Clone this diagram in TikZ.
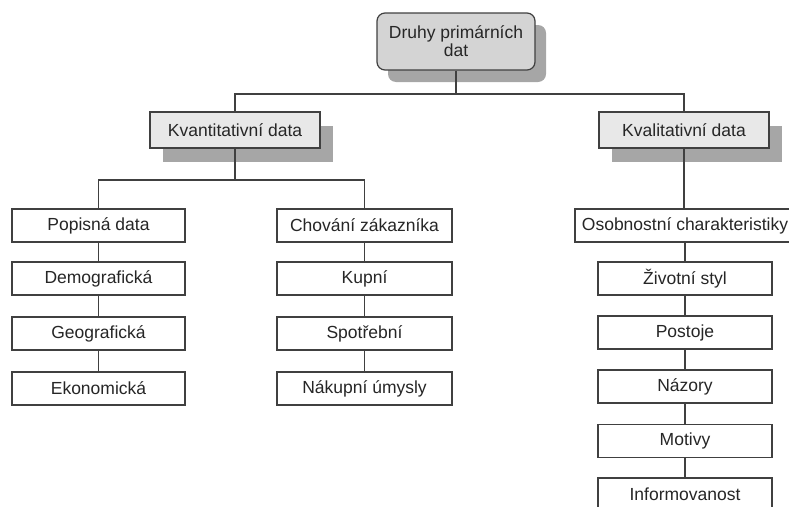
\documentclass[tikz,border=0pt]{standalone}
\usepackage{fontspec}
\setmainfont{Liberation Sans}
\usetikzlibrary{shadows}
\definecolor{edge}{HTML}{404040}
\definecolor{topfill}{HTML}{D4D4D4}
\definecolor{midfill}{HTML}{E8E8E8}
\definecolor{shade}{HTML}{A6A6A6}
\tikzset{
  base/.style={draw=edge, line width=1.2pt, inner sep=0pt, font=\fontsize{17.5}{18}\selectfont, text=black!85},
  leaf/.style={base, fill=white, minimum height=33pt},
  mid/.style={base, fill=midfill, minimum height=36pt, minimum width=170pt,
    drop shadow={shadow xshift=13pt, shadow yshift=-14pt, fill=shade, opacity=1}},
  topbox/.style={base, fill=topfill, rounded corners=8pt, minimum height=57pt, minimum width=158pt, align=center,
    drop shadow={shadow xshift=11pt, shadow yshift=-12pt, fill=shade, opacity=1}},
  conn/.style={draw=edge, line width=1.2pt}
}
\begin{document}
\begin{tikzpicture}[x=1pt,y=-1pt]
\useasboundingbox (0,0) rectangle (789,506);
\node[topbox] (top) at (456,41.5) {Druhy primárních\\dat};
\node[mid] (kvant) at (235,130) {Kvantitativní data};
\node[mid] (kval) at (684,130) {Kvalitativní data};
% left column
\node[leaf, minimum width=173pt] (pop) at (98.5,225.5) {Popisná data};
\node[leaf, minimum width=173pt] (dem) at (98.5,278.5) {Demografická};
\node[leaf, minimum width=173pt] (geo) at (98.5,333.5) {Geografická};
\node[leaf, minimum width=173pt] (eko) at (98.5,388.5) {Ekonomická};
% middle column
\node[leaf, minimum width=175pt] (cho) at (364.5,225.5) {Chování zákazníka};
\node[leaf, minimum width=175pt] (kup) at (364.5,278.5) {Kupní};
\node[leaf, minimum width=175pt] (spo) at (364.5,333.5) {Spotřební};
\node[leaf, minimum width=175pt] (nak) at (364.5,388.5) {Nákupní úmysly};
% right column
\node[leaf, minimum width=220pt] (oso) at (685,225.5) {Osobnostní charakteristiky};
\node[leaf, minimum width=174pt] (ziv) at (685,278.5) {Životní styl};
\node[leaf, minimum width=174pt] (pos) at (685,332.5) {Postoje};
\node[leaf, minimum width=174pt] (naz) at (685,386.5) {Názory};
\node[leaf, minimum width=174pt] (mot) at (685,441) {Motivy};
\node[leaf, minimum width=174pt] (inf) at (685,494.5) {Informovanost};
% connectors
\coordinate (bar1) at (456,94);
\coordinate (bar2) at (235,180);
\draw[conn] (top.south) -- (bar1);
\draw[conn] (bar1) -| (kvant.north);
\draw[conn] (bar1) -| (kval.north);
\draw[conn] (kvant.south) -- (bar2);
\draw[conn] (bar2) -| (pop.north);
\draw[conn] (bar2) -| (cho.north);
\draw[conn] (pop) -- (dem);
\draw[conn] (dem) -- (geo);
\draw[conn] (geo) -- (eko);
\draw[conn] (cho) -- (kup);
\draw[conn] (kup) -- (spo);
\draw[conn] (spo) -- (nak);
\draw[conn] (kval.south) -- (kval.south |- oso.north);
\draw[conn] (oso) -- (ziv);
\draw[conn] (ziv) -- (pos);
\draw[conn] (pos) -- (naz);
\draw[conn] (naz) -- (mot);
\draw[conn] (mot) -- (inf);
\end{tikzpicture}
\end{document}
